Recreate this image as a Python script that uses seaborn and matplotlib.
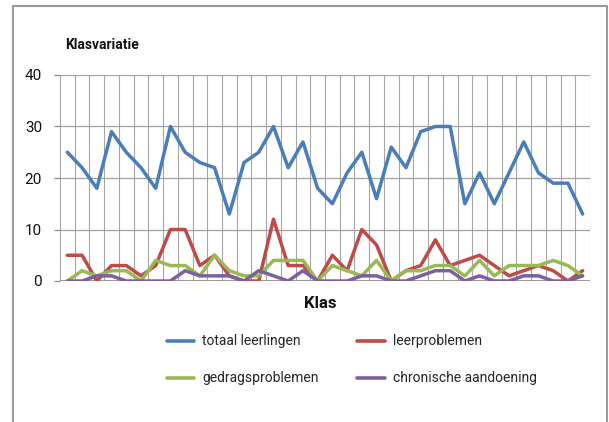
import matplotlib
matplotlib.use("Agg")
import matplotlib.pyplot as plt
from matplotlib import font_manager
from matplotlib.lines import Line2D
import pandas as pd
import seaborn as sns

# Leerlingen per klas, per categorie
klassen = list(range(1, 37))
totaal_leerlingen = [25, 22, 18, 29, 25, 22, 18, 30, 25, 23, 22, 13, 23, 25, 30, 22, 27, 18,
                     15, 21, 25, 16, 26, 22, 29, 30, 30, 15, 21, 15, 21, 27, 21, 19, 19, 13]
leerproblemen = [5, 5, 0, 3, 3, 1, 3, 10, 10, 3, 5, 1, 0, 0, 12, 3, 3, 0,
                 5, 2, 10, 7, 0, 2, 3, 8, 3, 4, 5, 3, 1, 2, 3, 2, 0, 2]
gedragsproblemen = [0, 2, 1, 2, 2, 0, 4, 3, 3, 1, 5, 2, 1, 1, 4, 4, 4, 0,
                    3, 2, 1, 4, 0, 2, 2, 3, 3, 1, 4, 1, 3, 3, 3, 4, 3, 1]
chronische_aandoening = [0, 0, 1, 1, 0, 0, 0, 0, 2, 1, 1, 1, 0, 2, 1, 0, 2, 0,
                         0, 0, 1, 1, 0, 0, 1, 2, 2, 0, 1, 0, 0, 1, 1, 0, 0, 1]

series_namen = ["totaal leerlingen", "leerproblemen", "gedragsproblemen", "chronische aandoening"]
series_waarden = [totaal_leerlingen, leerproblemen, gedragsproblemen, chronische_aandoening]
kleuren = ["#4A7EBB", "#BE4B48", "#98B954", "#7D60A0"]
y_ticks = [0, 10, 20, 30, 40]


def kies_font(kandidaten):
    for naam in kandidaten:
        try:
            font_manager.findfont(font_manager.FontProperties(family=naam),
                                  fallback_to_default=False)
            return naam
        except Exception:
            continue
    return "DejaVu Sans"


sns.set_theme(style="white")
font = kies_font(["Liberation Sans Narrow", "DejaVu Sans Condensed", "Roboto", "DejaVu Sans"])
plt.rcParams["font.family"] = [font, "DejaVu Sans"]

rows = []
for naam, waarden in zip(series_namen, series_waarden):
    for i, v in enumerate(waarden):
        rows.append({"klas": i, "aantal": v, "reeks": naam})
df = pd.DataFrame(rows)

fig = plt.figure(figsize=(6.09, 4.22), dpi=100)
ax = fig.add_axes([60 / 609, 1 - 281 / 422, 530 / 609, 206 / 422])

sns.lineplot(data=df, x="klas", y="aantal", hue="reeks", hue_order=series_namen,
             palette=kleuren, linewidth=2.5, ax=ax, legend=False, zorder=3)

n = len(klassen)
ax.set_xlim(-0.5, n - 0.5)
ax.set_ylim(0, 40)
ax.set_yticks(y_ticks)
ax.set_yticklabels([str(t) for t in y_ticks], fontsize=11, color="#111111")
ax.set_xticks([])

# Rasterlijnen tussen de klassen en op de y-ticks
for k in range(n + 1):
    ax.axvline(k - 0.5, color="#a6a6a6", linewidth=0.8, zorder=1)
for t in y_ticks[1:]:
    ax.axhline(t, color="#a2a2a2", linewidth=0.9, zorder=1)
ax.axhline(0, color="#8a8a8a", linewidth=1.2, zorder=2)

for s in ax.spines.values():
    s.set_visible(False)
ax.tick_params(axis="y", which="major", length=4, width=0.9, color="#8a8a8a", pad=9, left=True)
ax.set_xlabel("")
ax.set_ylabel("")

fig.text(65 / 609, 1 - 45 / 422, "Klasvariatie", fontsize=10, fontweight="bold",
         ha="left", va="center", color="#111111")
fig.text(320 / 609, 1 - 304 / 422, "Klas", fontsize=12, fontweight="bold",
         ha="center", va="center", color="#111111")

# Legenda in twee kolommen, rij voor rij gevuld
volgorde = [0, 2, 1, 3]
handles = [Line2D([0], [0], color=kleuren[i], linewidth=2.6) for i in volgorde]
labels = [series_namen[i] for i in volgorde]
fig.legend(handles, labels, ncol=2, loc="upper left",
           bbox_to_anchor=(154 / 609, 1 - 322 / 422), frameon=False,
           fontsize=10, handlelength=2.0, handletextpad=0.55,
           columnspacing=2.8, labelspacing=1.65)

# Kader rond de grafiek
rand = "#9a9a9a"
fig.add_artist(Line2D([13 / 609, 13 / 609], [0, 1 - 6 / 422], color=rand, linewidth=1.5))
fig.add_artist(Line2D([13 / 609, 607 / 609], [1 - 6 / 422, 1 - 6 / 422], color=rand, linewidth=1.5))
fig.add_artist(Line2D([607 / 609, 607 / 609], [0, 1 - 6 / 422], color=rand, linewidth=1.5))

fig.savefig("out.png", dpi=100)
